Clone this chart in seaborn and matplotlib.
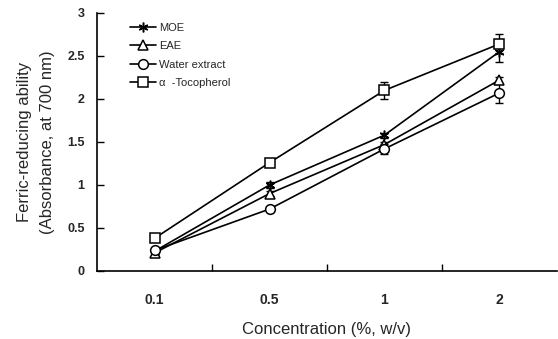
import numpy as np
import pandas as pd
import seaborn as sns
import matplotlib.pyplot as plt

concs = ["0.1", "0.5", "1", "2"]
moe = [0.23, 1.00, 1.58, 2.55]
moe_err = [0.02, 0.03, 0.03, 0.12]
eae = [0.21, 0.90, 1.47, 2.22]
eae_err = [0.02, 0.03, 0.03, 0.04]
water = [0.24, 0.72, 1.42, 2.07]
water_err = [0.02, 0.03, 0.06, 0.12]
toco = [0.38, 1.26, 2.10, 2.64]
toco_err = [0.02, 0.03, 0.10, 0.11]

names = ["MOE", "EAE", "Water extract", "\u03b1  -Tocopherol"]
markers = [(6, 2, 0), "^", "o", "s"]

sns.set_style("white")
plt.rcParams["font.family"] = ["Liberation Sans", "DejaVu Sans"]

fig = plt.figure(figsize=(5.58, 3.39), dpi=100)
ax = fig.add_axes([0.174, 0.2006, 0.824, 0.7611])

x = np.arange(len(concs))
for name, vals, errs, m in zip(names, [moe, eae, water, toco],
                               [moe_err, eae_err, water_err, toco_err], markers):
    df = pd.DataFrame({"x": x, "y": vals})
    sns.lineplot(data=df, x="x", y="y", ax=ax, color="black", lw=1.2,
                 marker=m, markersize=7, markerfacecolor="white",
                 markeredgecolor="black", markeredgewidth=1.1, label=name)
    ax.errorbar(x, vals, yerr=errs, fmt="none", ecolor="black",
                elinewidth=1.0, capsize=3, capthick=1.0, zorder=1)

ax.set_xlim(-0.5, 3.5)
ax.set_ylim(0, 3)
ax.set_xticks(x)
ax.set_xticklabels(concs, fontsize=10, fontweight="bold")
ax.set_xticks([0.5, 1.5, 2.5], minor=True)
ax.tick_params(axis="x", which="major", length=0, pad=16)
ax.tick_params(axis="x", which="minor", direction="in", length=5, width=1,
               color="black", bottom=True)
ax.set_yticks([0, 0.5, 1, 1.5, 2, 2.5, 3])
ax.set_yticklabels(["0", "0.5", "1", "1.5", "2", "2.5", "3"], fontsize=9, fontweight="bold")
ax.tick_params(axis="y", direction="in", length=5, width=1, color="black", left=True, pad=9)

for s in ["top", "right"]:
    ax.spines[s].set_visible(False)
for s in ["left", "bottom"]:
    ax.spines[s].set_color("black")
    ax.spines[s].set_linewidth(1.2)

ax.set_xlabel("Concentration (%, w/v)", fontsize=12, labelpad=11)
ax.set_ylabel("Ferric-reducing ability\n(Absorbance, at 700 nm)", fontsize=12,
              labelpad=9, linespacing=1.6)

ax.legend(loc="upper left", bbox_to_anchor=(0.05, 1.0), frameon=False, fontsize=8,
          handlelength=2.3, handletextpad=0.3, labelspacing=0.75)

fig.savefig("out.png", dpi=100)
